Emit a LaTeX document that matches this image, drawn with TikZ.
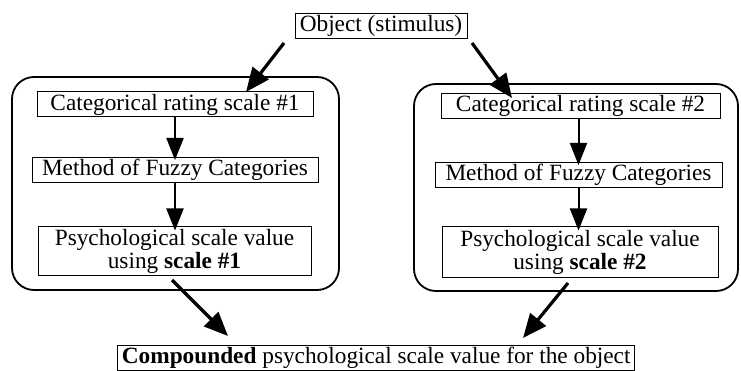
\documentclass[tikz,border=0pt]{standalone}
\usepackage{fontspec}
\setmainfont{Liberation Serif}
\usetikzlibrary{arrows.meta}
\begin{document}
\begin{tikzpicture}[x=1pt,y=-1pt,
  txt/.style={font=\fontsize{23.3}{23}\selectfont},
  lbox/.style={txt,draw,line width=1pt,inner xsep=0pt,inner ysep=1.5pt,text height=17pt,text depth=5pt},
  mbox/.style={txt,draw,line width=1pt,inner xsep=0pt,inner ysep=1.5pt,align=center},
  grp/.style={draw,line width=1.8pt,rounded corners=22pt},
  bigarr/.style={line width=3.2pt,-{Triangle[length=24pt,width=20pt]}},
  smallarr/.style={line width=2pt,-{Triangle[length=22pt,width=17pt]}}]
\useasboundingbox (0,0) rectangle (741,371);
\node[grp,minimum width=327pt,minimum height=213pt] (g1) at (175.5,183.5) {};
\node[grp,minimum width=324pt,minimum height=207pt] (g2) at (576,187.5) {};
\node[lbox,minimum width=172pt] (obj) at (381,26) {Object (stimulus)};
\node[lbox,minimum width=276pt] (c1) at (175,104.5) {Categorical rating scale \#1};
\node[lbox,minimum width=286pt] (m1) at (175,170) {Method of Fuzzy Categories};
\node[mbox,minimum width=273pt,minimum height=48pt] (p1) at (174.5,251) {Psychological scale value\\using \textbf{scale \#1}};
\node[lbox,minimum width=279pt] (c2) at (580.5,106) {Categorical rating scale \#2};
\node[lbox,minimum width=287pt] (m2) at (578.5,175) {Method of Fuzzy Categories};
\node[mbox,minimum width=276pt,minimum height=50pt] (p2) at (580,252) {Psychological scale value\\using \textbf{scale \#2}};
\node[lbox,inner xsep=4pt,anchor=east] (res) at (635,357.5) {\textbf{Compounded} psychological scale value for the object};
\coordinate (a1s) at (284,43);
\coordinate (a1e) at (246,92);
\coordinate (a2s) at (472,43);
\coordinate (a2e) at (512,98);
\coordinate (b1s) at (172,280);
\coordinate (b1e) at (228,336);
\coordinate (b2s) at (568,283);
\coordinate (b2e) at (523,338);
\draw[bigarr] (a1s) -- (a1e);
\draw[bigarr] (a2s) -- (a2e);
\draw[bigarr] (b1s) -- (b1e);
\draw[bigarr] (b2s) -- (b2e);
\draw[smallarr] (m1.north |- c1.south) -- ([yshift=-3pt]m1.north);
\draw[smallarr] (m1.south) -- ([yshift=-4pt]p1.north -| m1.south);
\draw[smallarr] (m2.north |- c2.south) -- ([yshift=-3pt]m2.north);
\draw[smallarr] (m2.south) -- ([yshift=-4pt]p2.north -| m2.south);
\end{tikzpicture}
\end{document}
